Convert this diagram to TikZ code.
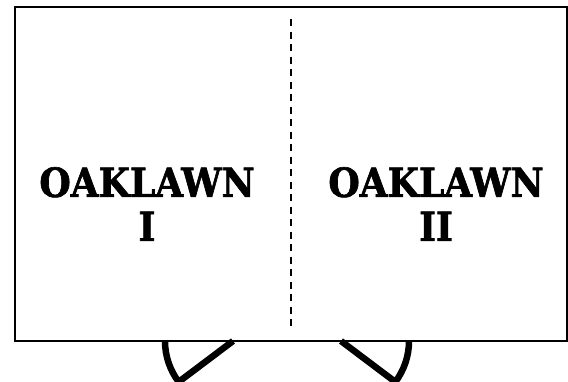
\documentclass[tikz,border=0pt]{standalone}
\usepackage{fontspec}
\setmainfont{DejaVu Serif Condensed}
\newfontfamily\hallfont[FakeBold=1.6]{DejaVu Serif Condensed Bold}
\usepackage{tikz}

\begin{document}
\begin{tikzpicture}[
    x=1pt, y=-1pt,
    wall/.style={line width=1.6pt},
    split/.style={line width=1.6pt, dash pattern=on 7pt off 5.5pt},
    door/.style={line width=6.5pt, line join=miter},
    room/.style={align=center, font=\hallfont\fontsize{40}{44}\selectfont, inner sep=0pt}]

  \useasboundingbox (0,0) rectangle (568,381);

  \draw[wall] (15,7) rectangle (567,341);
  \coordinate (splitTop) at (291,19);
  \coordinate (splitBot) at (291,331);
  \draw[split] (splitTop) -- (splitBot);

  \node[room] (oakI) at (147,204) {OAKLAWN\\I};
  \node[room] (oakII) at (436,204) {OAKLAWN\\II};

  % doors below the hall
  \coordinate (hingeL) at (233,341);
  \coordinate (hingeR) at (341,341);
  \draw[door] (hingeL) -- +(143:68) arc[start angle=143, end angle=180, radius=68];
  \draw[door] (hingeR) -- +(37:68) arc[start angle=37, end angle=0, radius=68];
\end{tikzpicture}
\end{document}
